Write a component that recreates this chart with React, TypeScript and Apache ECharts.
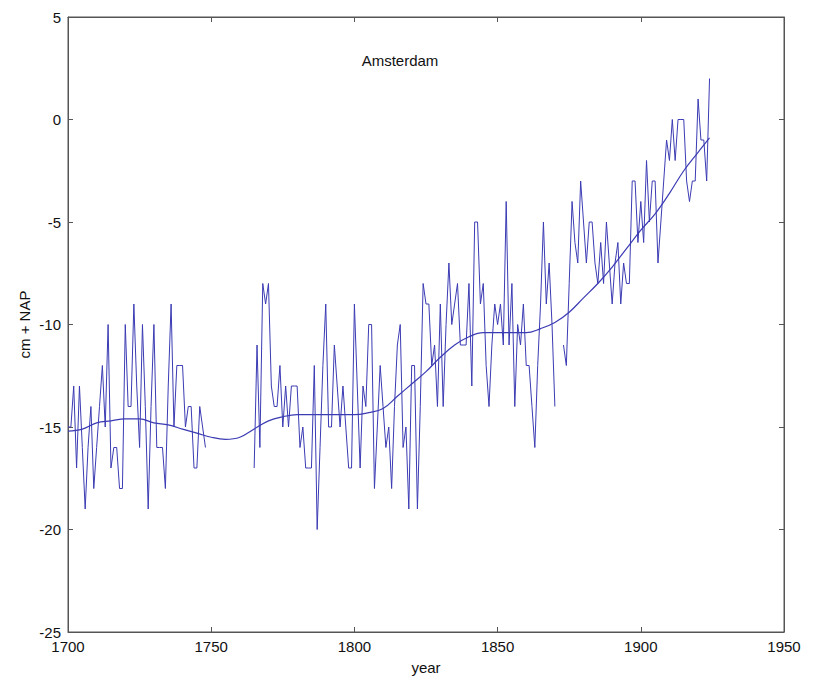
import React, { useEffect, useRef } from "react";
import * as echarts from "echarts";

// Annual mean sea level at Amsterdam, cm relative to NAP
const startEarly = 1700;
const levelsEarly = [
  -15, -15, -13, -17, -13, -16, -19, -16, -14, -18,
  -16, -14, -12, -15, -10, -17, -16, -16, -18, -18,
  -10, -14, -14, -9, -13, -16, -10, -14, -19, -14,
  -10, -16, -16, -16, -18, -13, -9, -15, -12, -12,
  -12, -15, -14, -14, -17, -17, -14, -15, -16,
];

const startMiddle = 1765;
const levelsMiddle = [
  -17, -11, -16, -8, -9, -8, -13, -14, -14, -12,
  -15, -13, -15, -13, -13, -13, -16, -15, -17, -17,
  -17, -12, -20, -16, -12, -9, -15, -15, -11, -13,
  -15, -13, -15, -17, -17, -9, -13, -17, -13, -14,
  -10, -10, -18, -15, -12, -14, -16, -15, -18, -14,
  -11, -10, -16, -15, -19, -12, -12, -19, -14, -8,
  -9, -9, -12, -11, -14, -9, -14, -10, -7, -10,
  -9, -8, -11, -11, -11, -8, -13, -5, -5, -9,
  -8, -12, -14, -11, -9, -10, -9, -11, -4, -11,
  -8, -14, -10, -11, -9, -12, -12, -14, -16, -12,
  -9, -5, -9, -7, -10, -14,
];

const startLate = 1873;
const levelsLate = [
  -11, -12, -8, -4, -6, -7, -3, -5, -7, -5,
  -5, -7, -8, -6, -8, -5, -7, -9, -7, -6,
  -9, -7, -8, -8, -3, -3, -6, -4, -6, -2,
  -5, -3, -3, -7, -5, -3, -1, -2, 0, -2,
  0, 0, 0, -3, -4, -3, -3, 1, -1, -1,
  -3, 2,
];

// Smoothed trend
const trendYears = [
  1700, 1705, 1710, 1715, 1720, 1725, 1730, 1735, 1740, 1745,
  1750, 1755, 1760, 1765, 1770, 1775, 1780, 1785, 1790, 1795,
  1800, 1805, 1810, 1815, 1820, 1825, 1830, 1835, 1840, 1845,
  1850, 1855, 1860, 1865, 1870, 1875, 1880, 1885, 1890, 1895,
  1900, 1905, 1910, 1915, 1920, 1924,
];
const trendLevels = [
  -15.2, -15.1, -14.8, -14.7, -14.6, -14.6, -14.8, -14.9, -15.1, -15.3,
  -15.5, -15.6, -15.5, -15.1, -14.7, -14.5, -14.4, -14.4, -14.4, -14.4,
  -14.4, -14.3, -14.1, -13.5, -12.9, -12.3, -11.6, -11.0, -10.6, -10.4,
  -10.4, -10.4, -10.4, -10.2, -9.9, -9.4, -8.7, -8.0, -7.2, -6.3,
  -5.4, -4.6, -3.6, -2.5, -1.6, -0.9,
];

const xTicks = { min: 1700, max: 1950, interval: 50 };
const yTicks = { min: -25, max: 5, interval: 5 };

const lineColor = "#3b3bb4";
const axisColor = "#555";
const textColor = "#111";
const font = "'Liberation Sans', Arial, sans-serif";

function pairs(start: number, values: number[]) {
  return values.map((v, i) => [start + i, v]);
}

export default function App() {
  const ref = useRef<HTMLDivElement>(null);

  useEffect(() => {
    document.body.style.margin = "0";
    if (!ref.current) return;
    const chart = echarts.init(ref.current, undefined, { renderer: "svg" });

    const tickCommon = {
      axisLine: { show: true, onZero: false, lineStyle: { color: axisColor, width: 1 } },
      axisTick: { show: true, inside: true, length: 5, lineStyle: { color: axisColor } },
      splitLine: { show: false },
    };
    const labelStyle = {
      fontSize: 15,
      fontFamily: font,
      color: textColor,
      margin: 7,
      formatter: (v: number) => String(v),
    };

    const dataSeries = (data: number[][]) => ({
      type: "line",
      data,
      showSymbol: false,
      symbol: "none",
      lineStyle: { color: lineColor, width: 1 },
      itemStyle: { color: lineColor },
      xAxisIndex: 0,
      yAxisIndex: 0,
      z: 2,
    });

    chart.setOption({
      animation: false,
      backgroundColor: "#fff",
      grid: {
        left: 68,
        right: 36,
        top: 17,
        bottom: 47,
        show: true,
        borderColor: axisColor,
        borderWidth: 1,
      },
      graphic: [
        {
          type: "text",
          x: 400,
          y: 60,
          style: {
            text: "Amsterdam",
            textAlign: "center",
            textVerticalAlign: "middle",
            fontSize: 15,
            fontFamily: font,
            fill: textColor,
          },
        },
      ],
      xAxis: [
        {
          type: "value",
          ...xTicks,
          position: "bottom",
          name: "year",
          nameLocation: "middle",
          nameGap: 28,
          nameMoveOverlap: false,
          nameTextStyle: { fontSize: 15, fontFamily: font, color: textColor },
          axisLabel: labelStyle,
          ...tickCommon,
        },
        {
          type: "value",
          ...xTicks,
          position: "top",
          axisLabel: { show: false },
          ...tickCommon,
        },
      ],
      yAxis: [
        {
          type: "value",
          ...yTicks,
          position: "left",
          name: "cm + NAP",
          nameLocation: "middle",
          nameGap: 36,
          nameRotate: 90,
          nameMoveOverlap: false,
          nameTextStyle: { fontSize: 15, fontFamily: font, color: textColor },
          axisLabel: labelStyle,
          ...tickCommon,
        },
        {
          type: "value",
          ...yTicks,
          position: "right",
          axisLabel: { show: false },
          ...tickCommon,
        },
      ],
      series: [
        dataSeries(pairs(startEarly, levelsEarly)),
        dataSeries(pairs(startMiddle, levelsMiddle)),
        dataSeries(pairs(startLate, levelsLate)),
        {
          type: "line",
          data: trendYears.map((y, i) => [y, trendLevels[i]]),
          smooth: 0.4,
          showSymbol: false,
          symbol: "none",
          lineStyle: { color: lineColor, width: 1.2 },
          xAxisIndex: 0,
          yAxisIndex: 0,
          z: 3,
        },
      ],
    });

    return () => chart.dispose();
  }, []);

  return <div ref={ref} style={{ width: 820, height: 680 }} />;
}
